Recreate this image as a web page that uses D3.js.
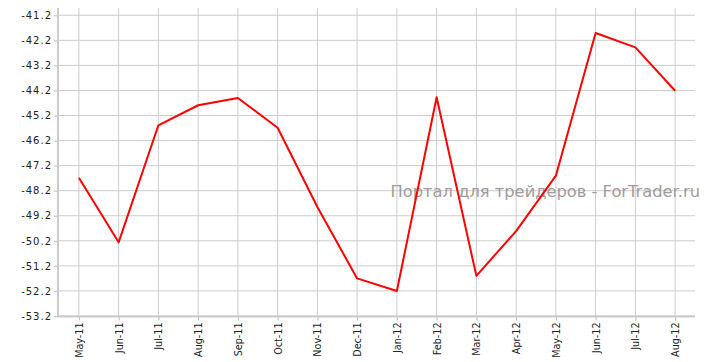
<!DOCTYPE html>
<html>
<head>
<meta charset="utf-8">
<script src="https://cdn.jsdelivr.net/npm/d3@7"></script>
<style>
  body { margin: 0; background: #fff; }
  svg { display: block; }
</style>
</head>
<body>
<script>
// chart size
var w = 707;
var h = 362;

// months and values
var months = ["May-11", "Jun-11", "Jul-11", "Aug-11", "Sep-11", "Oct-11", "Nov-11", "Dec-11",
              "Jan-12", "Feb-12", "Mar-12", "Apr-12", "May-12", "Jun-12", "Jul-12", "Aug-12"];
var values = [-47.68, -50.26, -45.59, -44.79, -44.50, -45.69, -48.85, -51.70,
              -52.20, -44.47, -51.60, -49.81, -47.60, -41.91, -42.48, -44.21];
var yTicks = [-41.2, -42.2, -43.2, -44.2, -45.2, -46.2, -47.2, -48.2, -49.2, -50.2, -51.2, -52.2, -53.2];
var watermark = "Портал для трейдеров - ForTrader.ru";

// plot box (window.top is taken, so own names)
var pL = 59, pR = 695, pT = 8, pB = 316;

var x = d3.scalePoint().domain(months).range([pL, pR]).padding(0.5);
var y = d3.scaleLinear().domain([-53.2, -40.91]).range([pB, pT]);

var svg = d3.select("body").append("svg")
  .attr("width", w)
  .attr("height", h);

// horizontal grid
svg.append("g").selectAll("line")
  .data(yTicks)
  .enter().append("line")
  .attr("x1", pL).attr("x2", pR)
  .attr("y1", function (d) { return y(d); })
  .attr("y2", function (d) { return y(d); })
  .attr("stroke", "#cccccc")
  .attr("stroke-width", 1);

// vertical grid
svg.append("g").selectAll("line")
  .data(months)
  .enter().append("line")
  .attr("x1", function (d) { return x(d); })
  .attr("x2", function (d) { return x(d); })
  .attr("y1", pT).attr("y2", pB)
  .attr("stroke", "#cccccc")
  .attr("stroke-width", 1);

// watermark sits under the line
svg.append("text")
  .attr("x", 700)
  .attr("y", 197)
  .attr("text-anchor", "end")
  .attr("font-family", "DejaVu Sans, Verdana, sans-serif")
  .attr("font-size", 16.3)
  .attr("fill", "#a39a9a")
  .text(watermark);

// y axis
var yAxis = d3.axisLeft(y).tickValues(yTicks).tickSize(4).tickPadding(2)
  .tickFormat(function (d) { return d.toFixed(1); });
var gy = svg.append("g")
  .attr("transform", "translate(" + (pL - 1) + ",0)")
  .call(yAxis);
gy.select(".domain").remove();
gy.append("line")
  .attr("x1", 0).attr("x2", 0)
  .attr("y1", pT).attr("y2", pB + 1)
  .attr("stroke", "#cccccc").attr("stroke-width", 2);
gy.selectAll(".tick line").attr("stroke", "#bbbbbb");
gy.selectAll(".tick text")
  .attr("font-family", "DejaVu Sans, Verdana, sans-serif")
  .attr("font-size", 10)
  .attr("letter-spacing", "1px")
  .attr("fill", "#222");

// x axis
var xAxis = d3.axisBottom(x).tickSize(4).tickPadding(3);
var gx = svg.append("g")
  .attr("transform", "translate(0," + (pB + 0.5) + ")")
  .call(xAxis);
gx.select(".domain").remove();
gx.append("line")
  .attr("x1", pL - 2).attr("x2", pR)
  .attr("y1", 0).attr("y2", 0)
  .attr("stroke", "#cccccc").attr("stroke-width", 2);
gx.selectAll(".tick line").attr("stroke", "#bbbbbb");
gx.selectAll(".tick text")
  .attr("font-family", "DejaVu Sans, Verdana, sans-serif")
  .attr("font-size", 9.6)
  .attr("fill", "#222")
  .attr("text-anchor", "end")
  .attr("dy", "0.35em")
  .attr("transform", "translate(0,6) rotate(-90)")
  .attr("x", 0)
  .attr("y", 0);

// the line
var line = d3.line()
  .x(function (d, i) { return x(months[i]); })
  .y(function (d) { return y(d); });

svg.append("path")
  .datum(values)
  .attr("d", line)
  .attr("fill", "none")
  .attr("stroke", "#ff0000")
  .attr("stroke-width", 2)
  .attr("stroke-linejoin", "round");
</script>
</body>
</html>
